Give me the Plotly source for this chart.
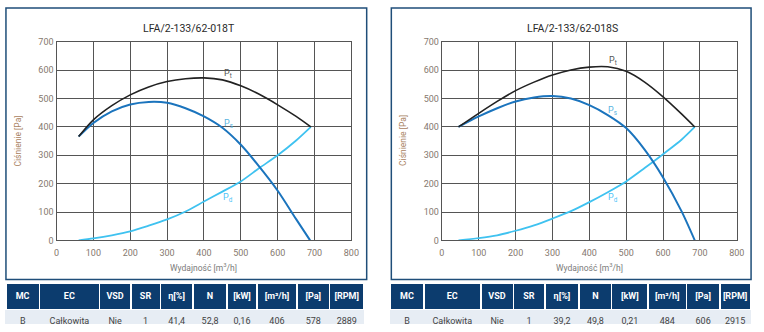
import plotly.graph_objects as go

# ---------------- data ----------------
titles = ["LFA/2-133/62-018T", "LFA/2-133/62-018S"]

# Left chart (018T)
t_x = [60, 100, 150, 200, 250, 300, 350, 400, 450, 500, 550, 600, 650, 690]
t_pt = [366, 425, 475, 513, 541, 560, 570, 573, 566, 545, 515, 478, 437, 400]
t_pd = [0, 7, 18, 32, 52, 74, 102, 137, 172, 208, 255, 300, 352, 400]
t_ps_x = [60, 100, 150, 200, 250, 300, 350, 400, 450, 500, 550, 600, 650, 688]
t_ps = [366, 414, 455, 479, 488, 485, 466, 437, 397, 337, 260, 175, 75, 0]

# Right chart (018S)
s_x = [45, 100, 150, 200, 250, 300, 350, 400, 450, 500, 550, 600, 650, 686]
s_pt = [400, 448, 490, 528, 558, 583, 601, 611, 612, 596, 558, 506, 446, 400]
s_ps = [400, 437, 466, 490, 504, 509, 500, 477, 442, 396, 320, 222, 103, 0]
s_pd = [0, 8, 18, 34, 53, 77, 103, 135, 170, 208, 255, 304, 355, 400]

# curve label positions (x, y) per chart
t_labels = [(466, 588), (466, 410), (466, 150)]
s_labels = [(464, 633), (464, 455), (464, 150)]
label_texts = ["P<sub>t</sub>", "P<sub>s</sub>", "P<sub>d</sub>"]

# tables
table_header = ["MC", "EC", "VSD", "SR", "η[%]", "N", "[kW]", "[m³/h]", "[Pa]", "[RPM]"]
t_row = ["B", "Całkowita", "Nie", "1", "41,4", "52,8", "0,16", "406", "578", "2889"]
s_row = ["B", "Całkowita", "Nie", "1", "39,2", "49,8", "0,21", "484", "606", "2915"]
t_colw = [34, 61, 32, 30, 33, 35, 30, 41, 33, 35]
s_colw = [34, 58, 33, 32, 35, 33, 37, 39, 34, 31]

x_ticks = [0, 100, 200, 300, 400, 500, 600, 700, 800]
y_ticks = [0, 100, 200, 300, 400, 500, 600, 700]

# ---------------- figure ----------------
W, H = 764, 332
FONT = "Roboto"
C_PT = "#222222"
C_PS = "#1b74bd"
C_PD = "#3fc2f0"
GRID = "#555555"
TICK_C = "#85786e"

fig = go.Figure()

def px_x(p):
    return p / W

def px_y(p):
    return 1 - p / H

panels = [
    dict(xa="x", ya="y", dom=[px_x(54.3), px_x(353.5)], box=(3, 3, 369, 283), title_x=189,
         pt=(t_x, t_pt), ps=(t_ps_x, t_ps), pd=(t_x, t_pd), labels=t_labels),
    dict(xa="x2", ya="y2", dom=[px_x(445.3), px_x(744.5)], box=(394, 3, 759, 283), title_x=578,
         pt=(s_x, s_pt), ps=(s_x, s_ps), pd=(s_x, s_pd), labels=s_labels),
]

ydom = [px_y(242.7), px_y(38)]

for i, p in enumerate(panels):
    fig.add_trace(go.Scatter(x=p["pd"][0], y=p["pd"][1], mode="lines",
                             line=dict(color=C_PD, width=1.8, shape="spline", smoothing=0.8),
                             xaxis=p["xa"], yaxis=p["ya"], showlegend=False, hoverinfo="skip"))
    fig.add_trace(go.Scatter(x=p["ps"][0], y=p["ps"][1], mode="lines",
                             line=dict(color=C_PS, width=2, shape="spline", smoothing=0.8),
                             xaxis=p["xa"], yaxis=p["ya"], showlegend=False, hoverinfo="skip"))
    fig.add_trace(go.Scatter(x=p["pt"][0], y=p["pt"][1], mode="lines",
                             line=dict(color=C_PT, width=1.6, shape="spline", smoothing=0.8),
                             xaxis=p["xa"], yaxis=p["ya"], showlegend=False, hoverinfo="skip"))
    lab_colors = ["#555555", "#5ab4e0", "#4fc3f7"]
    for (lx, ly), txt, col in zip(p["labels"], label_texts, lab_colors):
        fig.add_annotation(x=lx, y=ly, xref=p["xa"], yref=p["ya"], text=txt, showarrow=False,
                           font=dict(family=FONT, size=9, color=col))
    # panel border
    x0, y0, x1, y1 = p["box"]
    fig.add_shape(type="rect", xref="paper", yref="paper", x0=px_x(x0), x1=px_x(x1), y0=px_y(y1), y1=px_y(y0),
                  line=dict(color="#1f4e79", width=1.5), fillcolor="rgba(0,0,0,0)", layer="below")
    # title
    fig.add_annotation(x=px_x(p["title_x"]), y=px_y(24), xref="paper", yref="paper", text=titles[i],
                       showarrow=False, xanchor="center", yanchor="middle",
                       font=dict(family=FONT, size=10.5, color="#2a2a2a"))
    # axis titles
    cx = (p["dom"][0] + p["dom"][1]) / 2
    fig.add_annotation(x=cx, y=px_y(270), xref="paper", yref="paper", text="Wydajność [m<sup>3</sup>/h]",
                       showarrow=False, xanchor="center", yanchor="middle",
                       font=dict(family=FONT, size=8.5, color="#7a7a7a"))
    fig.add_annotation(x=px_x(x0 + 12), y=px_y(140), xref="paper", yref="paper", text="Ciśnienie [Pa]",
                       textangle=-90, showarrow=False, xanchor="center", yanchor="middle",
                       font=dict(family=FONT, size=8.5, color="#a9825f"))

axis_common = dict(showgrid=True, gridcolor=GRID, gridwidth=1.4, showline=True, linecolor=GRID, linewidth=1.4,
                   mirror=True, zeroline=False, ticks="", tickfont=dict(family=FONT, size=9, color=TICK_C),
                   fixedrange=True)

fig.update_layout(
    width=W, height=H, margin=dict(l=0, r=0, t=0, b=0),
    paper_bgcolor="white", plot_bgcolor="white",
    xaxis=dict(domain=panels[0]["dom"], anchor="y", range=[0, 800], tickvals=x_ticks, ticklabelstandoff=4,
               **axis_common),
    yaxis=dict(domain=ydom, anchor="x", range=[0, 700], tickvals=y_ticks, **axis_common),
    xaxis2=dict(domain=panels[1]["dom"], anchor="y2", range=[0, 800], tickvals=x_ticks, ticklabelstandoff=4,
                **axis_common),
    yaxis2=dict(domain=ydom, anchor="x2", range=[0, 700], tickvals=y_ticks, **axis_common),
)

def add_table(row, colw, xa, xb):
    fig.add_trace(go.Table(
        domain=dict(x=[px_x(xa), px_x(xb)], y=[0, px_y(287)]),
        columnwidth=colw,
        header=dict(values=["<b>%s</b>" % h for h in table_header], fill_color="#0c3c6e",
                    line=dict(color="white", width=1.5), align="center", height=22,
                    font=dict(family=FONT, size=9, color="white")),
        cells=dict(values=[[v] for v in row], fill_color="#e7edf4",
                   line=dict(color="#e7edf4", width=1), align="center", height=14,
                   font=dict(family=FONT, size=9, color="#444444")),
    ))

add_table(t_row, t_colw, 3, 367)
add_table(s_row, s_colw, 393, 759)

fig.write_html("out.html")
